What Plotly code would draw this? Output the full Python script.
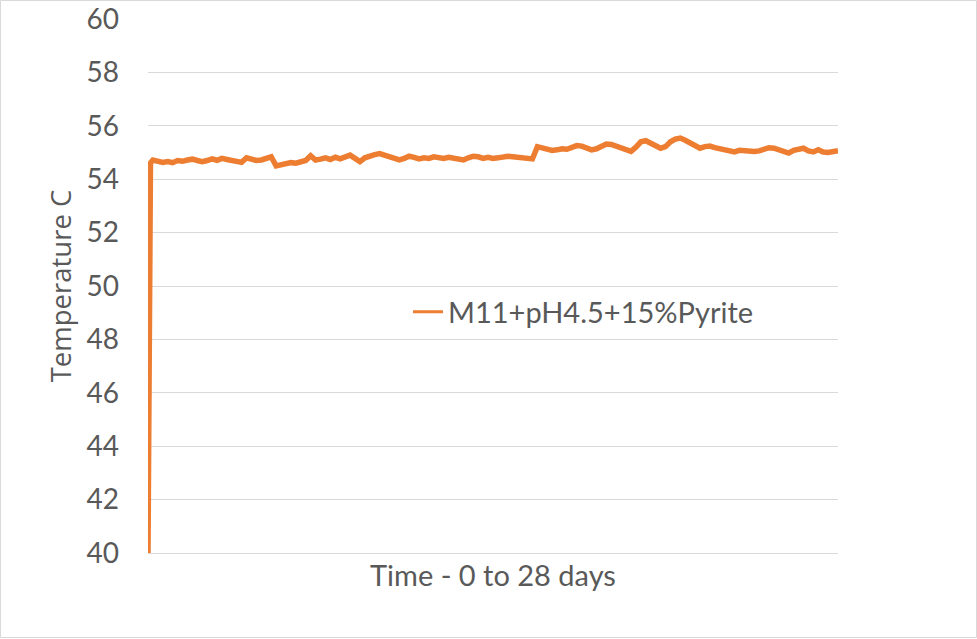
import plotly.graph_objects as go

series_name = "M11+pH4.5+15%Pyrite"

# initial rise (days, °C)
rise_days = [0.0, 0.03, 0.06, 0.1]
rise_temp = [40.0, 49.3, 54.3, 54.6]

# readings every 0.2 day from 0.2 to 28.0
temp_readings = [
    54.72, 54.68, 54.63, 54.66, 54.62, 54.70, 54.67, 54.72, 54.75, 54.70,
    54.66, 54.70, 54.76, 54.71, 54.78, 54.74, 54.70, 54.66, 54.63, 54.80,
    54.76, 54.70, 54.72, 54.80, 54.84, 54.50, 54.55, 54.58, 54.62, 54.60,
    54.65, 54.70, 54.88, 54.72, 54.75, 54.80, 54.74, 54.82, 54.76, 54.85,
    54.90, 54.78, 54.66, 54.80, 54.88, 54.92, 54.96, 54.90, 54.80, 54.74,
    54.72, 54.78, 54.86, 54.82, 54.76, 54.80, 54.78, 54.84, 54.80, 54.78,
    54.82, 54.78, 54.74, 54.72, 54.80, 54.86, 54.84, 54.78, 54.82, 54.78,
    54.80, 54.84, 54.86, 54.84, 54.82, 54.80, 54.78, 54.76, 55.22, 55.18,
    55.12, 55.08, 55.10, 55.14, 55.12, 55.20, 55.26, 55.24, 55.16, 55.10,
    55.14, 55.24, 55.32, 55.30, 55.24, 55.20, 55.10, 55.04, 55.20, 55.40,
    55.44, 55.36, 55.26, 55.16, 55.22, 55.40, 55.50, 55.54, 55.46, 55.34,
    55.26, 55.16, 55.22, 55.24, 55.18, 55.14, 55.10, 55.06, 55.02, 55.08,
    55.06, 55.02, 55.04, 55.06, 55.10, 55.18, 55.16, 55.10, 55.04, 54.98,
    55.08, 55.14, 55.16, 55.06, 55.02, 55.10, 55.02, 55.00, 55.04, 55.07,
]
reading_days = [round(0.2 * (i + 1), 2) for i in range(len(temp_readings))]

days = rise_days + reading_days
temps = rise_temp + temp_readings

y_ticks = list(range(40, 61, 2))

FONT = "Lato"
TXT = "#595959"
GRID = "#D9D9D9"
ORANGE = "#ED7D31"

fig = go.Figure()
fig.add_trace(go.Scatter(
    x=days, y=temps, mode="lines", name=series_name,
    line=dict(color=ORANGE, width=5.5),
    showlegend=False,
))
# legend entry with the thinner sample line seen in the reference
fig.add_trace(go.Scatter(
    x=[None], y=[None], mode="lines", name=series_name,
    line=dict(color=ORANGE, width=3),
    showlegend=True, hoverinfo="skip",
))

W, H = 977, 639
L, R, T, B = 148, 139, 19, 86
pw, ph = W - L - R, H - T - B

def px_x(p):
    return (p - L) / pw

def px_y(p):
    return (H - B - p) / ph

fig.update_layout(
    width=W, height=H,
    margin=dict(l=L, r=R, t=T, b=B, autoexpand=False),
    paper_bgcolor="white", plot_bgcolor="white",
    font=dict(family=FONT, color=TXT),
    showlegend=True,
    legend=dict(
        x=px_x(408), y=px_y(312), xanchor="left", yanchor="middle",
        bgcolor="rgba(0,0,0,0)", font=dict(size=29, color=TXT, family=FONT),
        itemwidth=30,
    ),
    xaxis=dict(
        range=[0, 28], showticklabels=False, showgrid=False, zeroline=False,
        showline=True, linecolor=GRID, linewidth=1, ticks="",
        title=dict(text="Time - 0 to 28 days", font=dict(size=29, color=TXT), standoff=12),
        automargin=False,
    ),
    yaxis=dict(
        range=[40, 60], tickvals=y_ticks, ticktext=[str(v) for v in y_ticks],
        showgrid=True, gridcolor=GRID, gridwidth=1, zeroline=False,
        showline=False, ticks="", tickfont=dict(size=28, color=TXT),
        ticklabelstandoff=28,
        title=dict(text="Temperature C",
                   font=dict(size=27.5, color=TXT, family="Open Sans"), standoff=6),
        automargin=False,
    ),
)

fig.add_shape(
    type="rect", xref="paper", yref="paper",
    x0=px_x(0.5), x1=px_x(976.5), y0=px_y(637.5), y1=px_y(0.5),
    line=dict(color=GRID, width=1), fillcolor="rgba(0,0,0,0)", layer="below",
)

fig.write_html(
    "out.html",
    config={"displayModeBar": False},
    post_script="document.body.style.margin='0';document.body.style.overflow='hidden';",
)
